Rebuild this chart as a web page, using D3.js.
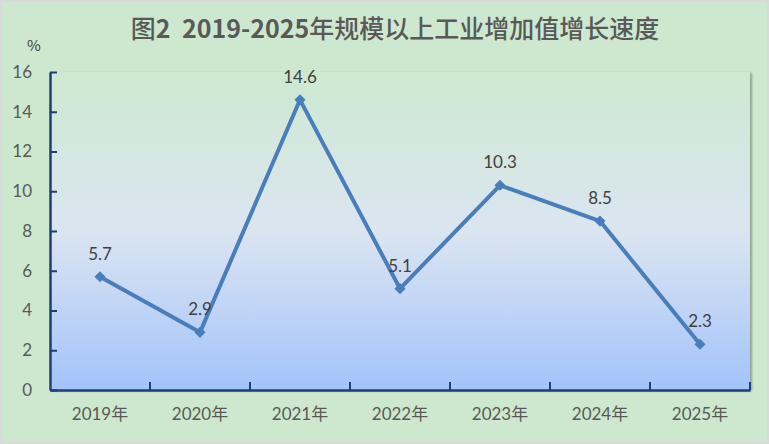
<!DOCTYPE html>
<html>
<head>
<meta charset="utf-8">
<script src="https://cdn.jsdelivr.net/npm/d3@7"></script>
<style>
  html, body { margin: 0; padding: 0; background: #d9d9d9; }
  svg { display: block; }
</style>
</head>
<body>
<svg width="769" height="444"></svg>
<script>
// 数据
var years = ["2019年", "2020年", "2021年", "2022年", "2023年", "2024年", "2025年"];
var growth = [5.7, 2.9, 14.6, 5.1, 10.3, 8.5, 2.3];
var yTicks = [0, 2, 4, 6, 8, 10, 12, 14, 16];
// 标题分段：数字加粗，汉字常规
var titleParts = [["图", 500], ["2", 700], ["\u00a0\u00a0", 500], ["2019-2025", 700], ["年规模以上工业增加值增长速度", 500]];
var unit = "%";

(function () {
  var svg = d3.select("svg"),
    width = +svg.attr("width"),
    height = +svg.attr("height");

  var margin = { top: 72, right: 19, bottom: 54, left: 50 },
    w = width - margin.left - margin.right,
    h = height - margin.top - margin.bottom;

  var defs = svg.append("defs");
  var grad = defs.append("linearGradient")
    .attr("id", "plotBg")
    .attr("x1", 0).attr("y1", 0).attr("x2", 0).attr("y2", 1);
  grad.append("stop").attr("offset", "0%").attr("stop-color", "#cde9d0");
  grad.append("stop").attr("offset", "50%").attr("stop-color", "#dbe5f1");
  grad.append("stop").attr("offset", "100%").attr("stop-color", "#a3c3fb");

  var shadow = defs.append("filter").attr("id", "shadow")
    .attr("x", "-5%").attr("y", "-5%").attr("width", "110%").attr("height", "110%");
  shadow.append("feDropShadow")
    .attr("dx", 2).attr("dy", 1).attr("stdDeviation", 1.2)
    .attr("flood-color", "#000").attr("flood-opacity", 0.3);

  // 背景
  svg.append("rect")
    .attr("x", 2).attr("y", 2)
    .attr("width", width - 4).attr("height", height - 4)
    .attr("fill", "#cde8cf");

  var g = svg.append("g")
    .attr("transform", "translate(" + margin.left + "," + margin.top + ")");

  var x = d3.scaleBand().domain(years).range([0, w]);
  var y = d3.scaleLinear().domain([0, 16]).range([h, 0]);

  g.append("rect")
    .attr("width", w).attr("height", h)
    .attr("fill", "url(#plotBg)")
    .attr("filter", "url(#shadow)");

  // 标题
  var t = svg.append("text")
    .attr("x", 395).attr("y", 38)
    .attr("text-anchor", "middle")
    .attr("font-family", "'Noto Sans CJK SC', sans-serif")
    .attr("font-size", 25)
    .attr("fill", "#595959");
  t.selectAll("tspan")
    .data(titleParts)
    .enter().append("tspan")
    .attr("font-weight", function (d) { return d[1]; })
    .text(function (d) { return d[0]; });

  svg.append("text")
    .attr("x", 34).attr("y", 51)
    .attr("text-anchor", "middle")
    .attr("font-family", "'Noto Sans CJK SC', sans-serif")
    .attr("font-size", 15)
    .attr("fill", "#404040")
    .text(unit);

  var axisColor = "#1f3f73";

  // y 轴
  var yAxis = g.append("g")
    .call(d3.axisLeft(y).tickValues(yTicks).tickSize(-7).tickPadding(18).tickSizeOuter(0));
  yAxis.select(".domain").attr("stroke", axisColor).attr("stroke-width", 2.5);
  yAxis.selectAll(".tick line").attr("stroke", axisColor).attr("stroke-width", 2);
  yAxis.selectAll(".tick text")
    .attr("fill", "#595959")
    .attr("font-family", "Lato, 'Open Sans', sans-serif")
    .attr("font-size", 17);

  // x 轴
  var xAxis = g.append("g")
    .attr("transform", "translate(0," + h + ")")
    .call(d3.axisBottom(x).tickSize(0).tickPadding(18));
  xAxis.select(".domain").attr("stroke", axisColor).attr("stroke-width", 2.5);
  xAxis.selectAll(".tick text")
    .attr("fill", "#595959")
    .attr("font-family", "Lato, 'Noto Sans CJK SC', sans-serif")
    .attr("font-size", 17);

  // x 轴刻度（类别分界处）
  g.append("g").selectAll("line")
    .data(years.slice(1).concat(["end"]))
    .enter().append("line")
    .attr("x1", function (d, i) { return x.step() * (i + 1); })
    .attr("x2", function (d, i) { return x.step() * (i + 1); })
    .attr("y1", h).attr("y2", h - 8)
    .attr("stroke", axisColor).attr("stroke-width", 2);

  var cx = function (d, i) { return x(years[i]) + x.bandwidth() / 2; };

  // 折线
  var line = d3.line()
    .x(function (d, i) { return cx(d, i); })
    .y(function (d) { return y(d); });

  g.append("path")
    .datum(growth)
    .attr("d", line)
    .attr("fill", "none")
    .attr("stroke", "#4a7ebb")
    .attr("stroke-width", 4)
    .attr("stroke-linejoin", "round");

  g.selectAll(".marker")
    .data(growth)
    .enter().append("path")
    .attr("class", "marker")
    .attr("d", d3.symbol().type(d3.symbolSquare).size(62))
    .attr("transform", function (d, i) { return "translate(" + cx(d, i) + "," + y(d) + ") rotate(45)"; })
    .attr("fill", "#4a7ebb");

  // 数据标签
  g.selectAll(".label")
    .data(growth)
    .enter().append("text")
    .attr("class", "label")
    .attr("x", function (d, i) { return cx(d, i); })
    .attr("y", function (d) { return y(d) - 17; })
    .attr("text-anchor", "middle")
    .attr("font-family", "Lato, 'Open Sans', sans-serif")
    .attr("font-size", 17)
    .attr("fill", "#404040")
    .text(function (d) { return d.toFixed(1); });
})();
</script>
</body>
</html>
